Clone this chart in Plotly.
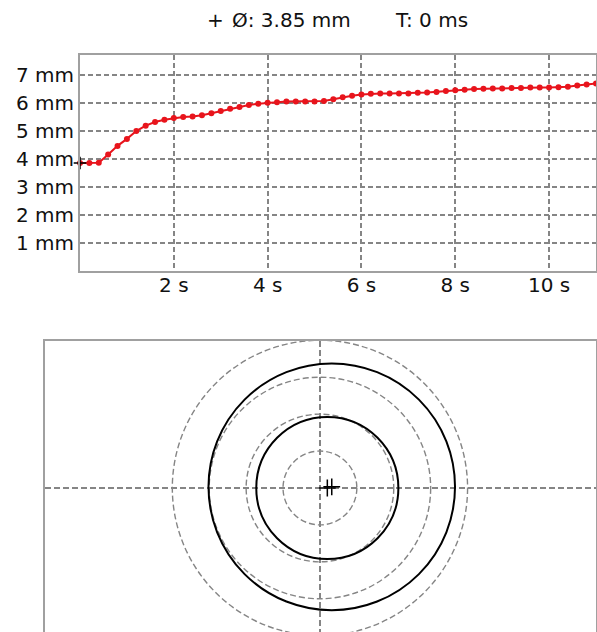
import plotly.graph_objects as go

# ---------------- data ----------------
time_s = [0.0, 0.2, 0.4, 0.6, 0.8, 1.0, 1.2, 1.4, 1.6, 1.8,
          2.0, 2.2, 2.4, 2.6, 2.8, 3.0, 3.2, 3.4, 3.6, 3.8,
          4.0, 4.2, 4.4, 4.6, 4.8, 5.0, 5.2, 5.4, 5.6, 5.8,
          6.0, 6.2, 6.4, 6.6, 6.8, 7.0, 7.2, 7.4, 7.6, 7.8,
          8.0, 8.2, 8.4, 8.6, 8.8, 9.0, 9.2, 9.4, 9.6, 9.8,
          10.0, 10.2, 10.4, 10.6, 10.8, 11.0]
diameter_mm = [3.85, 3.85, 3.86, 4.15, 4.46, 4.71, 4.99, 5.18, 5.31, 5.39,
               5.45, 5.49, 5.51, 5.55, 5.62, 5.70, 5.78, 5.85, 5.92, 5.96,
               6.00, 6.02, 6.04, 6.04, 6.04, 6.04, 6.06, 6.12, 6.19, 6.25,
               6.29, 6.32, 6.33, 6.33, 6.33, 6.33, 6.35, 6.36, 6.38, 6.42,
               6.44, 6.46, 6.49, 6.50, 6.51, 6.51, 6.52, 6.52, 6.54, 6.54,
               6.54, 6.55, 6.57, 6.61, 6.65, 6.68]

x_tick_vals = [2, 4, 6, 8, 10]
x_tick_text = ["2 s", "4 s", "6 s", "8 s", "10 s"]
y_tick_vals = [1, 2, 3, 4, 5, 6, 7]
y_tick_text = ["1 mm", "2 mm", "3 mm", "4 mm", "5 mm", "6 mm", "7 mm"]

cursor_time_ms = 0
cursor_diameter = diameter_mm[0]

ring_radii_mm = [1, 2, 3, 4]
# pupil outlines: current and maximum diameter, with their centres (mm)
pupil_diameters = [cursor_diameter, max(diameter_mm)]
pupil_center_x = [0.20, 0.32]
pupil_center_y = [0.00, 0.03]

# ---------------- figure ----------------
W, H = 597, 632
FONT = "DejaVu Sans"
GRID = "#858585"
FRAME = "#a0a0a0"

fig = go.Figure()

fig.add_trace(go.Scatter(
    x=time_s, y=diameter_mm, mode="lines+markers",
    line=dict(color="#e8141c", width=2),
    marker=dict(color="#e8141c", size=6),
    cliponaxis=False, xaxis="x", yaxis="y", showlegend=False))

fig.add_trace(go.Scatter(
    x=[cursor_time_ms / 1000.0], y=[cursor_diameter], mode="markers",
    marker=dict(symbol="cross-thin", size=9, line=dict(color="black", width=1.5)),
    cliponaxis=False, xaxis="x", yaxis="y", showlegend=False))

fig.add_trace(go.Scatter(
    x=pupil_center_x, y=pupil_center_y, mode="markers",
    marker=dict(symbol="cross-thin", size=12, line=dict(color="black", width=1.5)),
    xaxis="x2", yaxis="y2", showlegend=False))

shapes = []
for r in ring_radii_mm:
    shapes.append(dict(type="circle", xref="x2", yref="y2",
                       x0=-r, x1=r, y0=-r, y1=r,
                       line=dict(color=GRID, width=1.4, dash="6px,3px")))
for d, cx, cy in zip(pupil_diameters, pupil_center_x, pupil_center_y):
    shapes.append(dict(type="circle", xref="x2", yref="y2",
                       x0=cx - d / 2, x1=cx + d / 2, y0=cy - d / 2, y1=cy + d / 2,
                       line=dict(color="black", width=2)))

tick_font = dict(family=FONT, size=20, color="#111111")

fig.update_layout(
    width=W, height=H, autosize=False,
    margin=dict(l=0, r=0, t=0, b=0),
    paper_bgcolor="white", plot_bgcolor="white",
    shapes=shapes,
    xaxis=dict(domain=[80 / W, 596 / W], anchor="y", range=[0, 11],
               tickvals=x_tick_vals, ticktext=x_tick_text,
               showgrid=True, gridcolor=GRID, gridwidth=1.5, griddash="5px,3px",
               showline=True, linecolor=FRAME, linewidth=2, mirror=True,
               zeroline=False, ticks="", tickfont=tick_font,
               ticklabelstandoff=-5),
    yaxis=dict(domain=[(H - 271) / H, (H - 55) / H], anchor="x", range=[0, 7.7],
               tickvals=y_tick_vals, ticktext=y_tick_text,
               showgrid=True, gridcolor=GRID, gridwidth=1.5, griddash="5px,3px",
               showline=True, linecolor=FRAME, linewidth=2, mirror=True,
               zeroline=False, ticks="", tickfont=tick_font),
    xaxis2=dict(domain=[45 / W, 596 / W], anchor="y2", range=[-7.45, 7.48],
                tickvals=[0], showticklabels=False, side="top",
                showgrid=True, gridcolor=GRID, gridwidth=1.5, griddash="6px,3px",
                showline=True, linecolor=FRAME, linewidth=2, mirror=False,
                zeroline=False, ticks=""),
    yaxis2=dict(domain=[0, (H - 341) / H], anchor="x2", range=[-3.9, 3.98],
                tickvals=[0], showticklabels=False,
                showgrid=True, gridcolor=GRID, gridwidth=1.5, griddash="6px,3px",
                showline=True, linecolor=FRAME, linewidth=2, mirror=True,
                zeroline=False, ticks=""),
)

title_font = dict(family=FONT, size=20, color="#111111")
fig.add_annotation(text="+", x=205 / W, y=1 - 20 / H, xref="paper", yref="paper",
                   xanchor="left", yanchor="middle", showarrow=False, font=title_font)
fig.add_annotation(text=f"Ø: {cursor_diameter:.2f} mm", x=230 / W, y=1 - 20 / H,
                   xref="paper", yref="paper", xanchor="left", yanchor="middle",
                   showarrow=False, font=title_font)
fig.add_annotation(text=f"T: {cursor_time_ms} ms", x=393 / W, y=1 - 20 / H,
                   xref="paper", yref="paper", xanchor="left", yanchor="middle",
                   showarrow=False, font=title_font)

fig.write_html(
    "out.html",
    config={"displayModeBar": False},
    post_script="document.body.style.margin='0px';"
                "document.body.style.overflow='hidden';")
